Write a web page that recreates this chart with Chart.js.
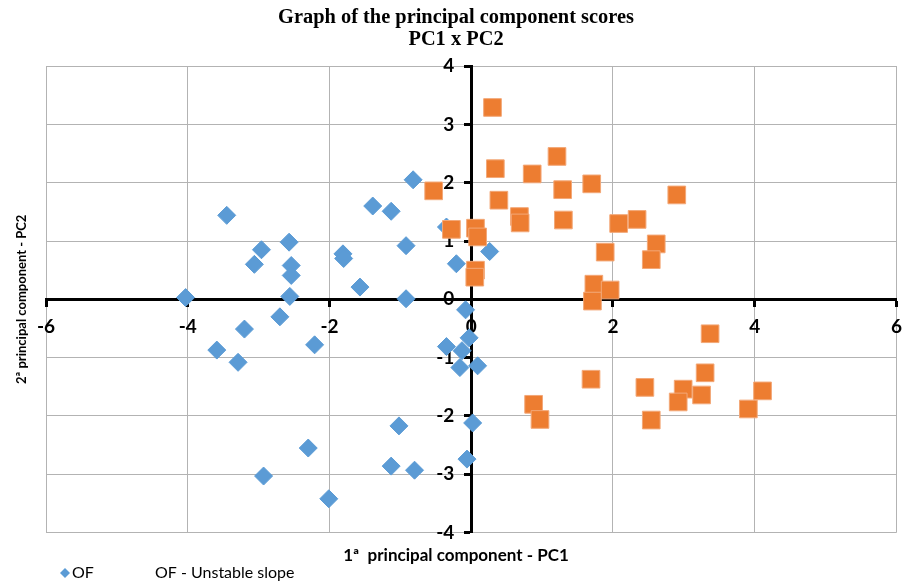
<!DOCTYPE html>
<html>
<head>
<meta charset="utf-8">
<script src="https://cdn.jsdelivr.net/npm/chart.js@4.4.1/dist/chart.umd.min.js"></script>
<style>
  html, body { margin: 0; padding: 0; background: #fff; }
  #wrap { width: 912px; height: 582px; position: relative; }
</style>
</head>
<body>
<div id="wrap"><canvas id="myChart"></canvas></div>
<script>
// 主成分スコア (PC1, PC2)
var ofX = [-3.45, -2.96, -3.06, -2.57, -2.54, -2.54, -2.56, -4.03, -1.81, -1.80,
           -1.57, -1.39, -1.13, -0.92, -0.92, -0.82, -0.35, -0.21, 0.26, -0.08,
           -2.70, -3.20, -3.59, -3.29, -2.21, -0.03, -0.35, -0.13, -0.16, 0.09,
           -1.02, 0.02, -2.30, -1.13, -0.80, -0.06, -2.93, -2.01];
var ofY = [1.44, 0.85, 0.60, 0.98, 0.58, 0.41, 0.05, 0.03, 0.78, 0.70,
           0.21, 1.60, 1.51, 0.92, 0.01, 2.05, 1.24, 0.61, 0.82, -0.18,
           -0.30, -0.51, -0.87, -1.08, -0.78, -0.66, -0.81, -0.88, -1.17, -1.14,
           -2.17, -2.12, -2.55, -2.86, -2.93, -2.74, -3.03, -3.42];

var unstableX = [-0.53, -0.28, 0.06, 0.09, 0.06, 0.05, 0.30, 0.34, 0.39, 0.68,
                 0.69, 0.86, 1.21, 1.29, 1.30, 1.70, 1.89, 1.73, 1.96, 1.71,
                 2.08, 2.34, 2.61, 2.54, 2.90, 3.37, 1.69, 2.45, 3.30, 2.99,
                 2.92, 3.25, 4.11, 3.91, 0.88, 0.97, 2.54];
var unstableY = [1.86, 1.20, 1.22, 1.07, 0.50, 0.38, 3.29, 2.24, 1.70, 1.42,
                 1.31, 2.15, 2.45, 1.88, 1.36, 1.98, 0.81, 0.26, 0.16, -0.03,
                 1.30, 1.37, 0.95, 0.68, 1.79, -0.59, -1.37, -1.51, -1.26, -1.54,
                 -1.76, -1.64, -1.57, -1.88, -1.80, -2.06, -2.07];

var seriesLabels = ['OF', 'OF - Unstable slope'];
var titleLines = ['Graph of the principal component scores', 'PC1 x PC2'];
var xTitle = '1ª  principal component - PC1';
var yTitle = '2ª principal component - PC2';

function toPoints(xs, ys) {
    var pts = [];
    for (var i = 0; i < xs.length; i++) {
        pts.push({ x: xs[i], y: ys[i] });
    }
    return pts;
}

var BLUE = '#5B9BD5';
var ORANGE = '#ED7D31';
var GRID = '#B3B3B3';

// 凡例 (下部左)
var bottomLegend = {
    id: 'bottomLegend',
    afterDraw: function (chart) {
        var ctx = chart.ctx;
        var y = 573;
        ctx.save();
        ctx.fillStyle = BLUE;
        ctx.beginPath();
        ctx.moveTo(65, y - 5);
        ctx.lineTo(70, y);
        ctx.lineTo(65, y + 5);
        ctx.lineTo(60, y);
        ctx.closePath();
        ctx.fill();
        ctx.fillStyle = '#000';
        ctx.font = '16px Lato';
        ctx.textBaseline = 'middle';
        ctx.textAlign = 'left';
        ctx.fillText(seriesLabels[0], 72, y);
        ctx.fillText(seriesLabels[1], 155, y);
        ctx.restore();
    }
};

var tickFont = { family: 'Lato', size: 19, weight: 'bold' };
var axisGrid = {
    color: GRID,
    lineWidth: 1,
    drawTicks: true,
    tickLength: 6,
    tickColor: '#000',
    tickWidth: 3
};

var ctx = document.getElementById('myChart').getContext('2d');
var config = {
    type: 'scatter',
    data: {
        datasets: [{
            label: seriesLabels[0],
            data: toPoints(ofX, ofY),
            pointStyle: 'rectRot',
            pointRadius: 9,
            pointHoverRadius: 9,
            backgroundColor: BLUE,
            borderColor: BLUE,
            borderWidth: 1,
            order: 1
        }, {
            label: seriesLabels[1],
            data: toPoints(unstableX, unstableY),
            pointStyle: 'rect',
            pointRadius: 12.5,
            pointHoverRadius: 12.5,
            backgroundColor: ORANGE,
            borderColor: '#F3A878',
            borderWidth: 1,
            order: 0
        }]
    },
    options: {
        responsive: true,
        maintainAspectRatio: false,
        animation: false,
        layout: {
            padding: { left: 0, right: 0, top: 0, bottom: 16 }
        },
        plugins: {
            legend: { display: false },
            tooltip: { enabled: false },
            title: {
                display: true,
                text: titleLines,
                color: '#000',
                font: { family: 'Liberation Serif', size: 20.4, weight: 'bold', lineHeight: 1.08 },
                padding: { top: 7, bottom: 15 }
            },
            subtitle: {
                display: true,
                position: 'bottom',
                text: xTitle,
                color: '#000',
                font: { family: 'Lato', size: 17, weight: 'bold', lineHeight: 1.2 },
                padding: { top: 13, bottom: 0 }
            }
        },
        scales: {
            x: {
                type: 'linear',
                position: 'center',
                min: -6,
                max: 6,
                ticks: { stepSize: 2, color: '#000', padding: 10, font: tickFont },
                grid: axisGrid,
                border: { display: true, color: '#000', width: 3 }
            },
            y: {
                type: 'linear',
                position: 'center',
                min: -4,
                max: 4,
                ticks: { stepSize: 1, color: '#000', padding: 11, font: tickFont },
                grid: axisGrid,
                border: { display: true, color: '#000', width: 3 }
            },
            // 軸タイトル用
            yTitleAxis: {
                type: 'linear',
                axis: 'y',
                position: 'left',
                min: -4,
                max: 4,
                ticks: { display: false },
                grid: { display: false, drawTicks: false },
                border: { display: false },
                title: {
                    display: true,
                    text: yTitle,
                    color: '#000',
                    font: { family: 'Lato', size: 13, weight: 'bold', lineHeight: 1.2 },
                    padding: { top: 14, bottom: 16 }
                },
                afterFit: function (scale) { scale.width = 46; }
            },
            // 右余白
            rightSpace: {
                type: 'linear',
                axis: 'y',
                position: 'right',
                min: -4,
                max: 4,
                ticks: { display: false },
                grid: { display: false, drawTicks: false },
                border: { display: false },
                afterFit: function (scale) { scale.width = 14; }
            }
        }
    },
    plugins: [bottomLegend]
};
var myChart = new Chart(ctx, config);
</script>
</body>
</html>
